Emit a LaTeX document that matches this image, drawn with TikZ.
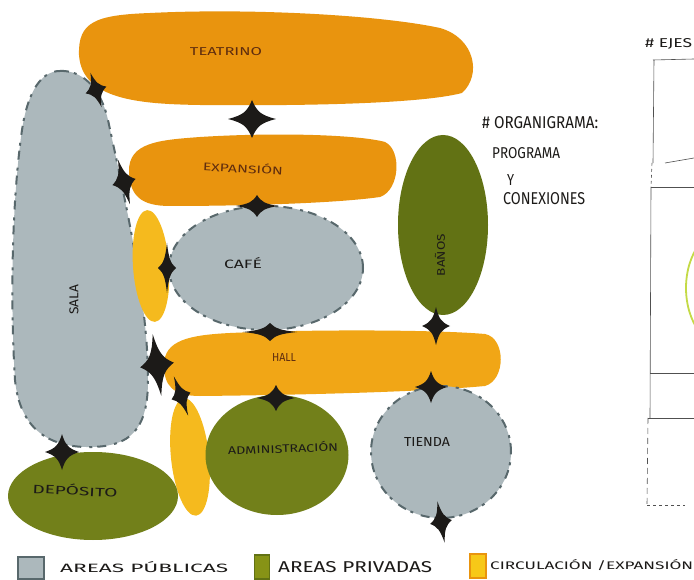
\documentclass[tikz,border=0pt]{standalone}
\usepackage{fontspec}
\setmainfont{Fira Sans}
\usepackage{graphicx}
\usetikzlibrary{shapes.geometric}
\definecolor{orA}{RGB}{233,148,14}
\definecolor{orB}{RGB}{241,166,22}
\definecolor{yel}{RGB}{245,186,30}
\definecolor{gry}{RGB}{172,184,188}
\definecolor{gryd}{RGB}{88,104,108}
\definecolor{grn}{RGB}{114,128,26}
\definecolor{grnd}{RGB}{98,114,20}
\definecolor{ink}{RGB}{28,26,24}
\definecolor{inkb}{RGB}{95,45,15}
\definecolor{skc}{RGB}{80,80,80}
\definecolor{yg}{RGB}{196,218,70}
\newcommand{\fitbox}[3]{\resizebox{#1pt}{#2pt}{#3}}
\tikzset{
  lbl/.style={inner sep=0pt, text=ink},
  lblo/.style={inner sep=0pt, text=inkb},
  pubedge/.style={draw=gryd, line width=2pt, dash pattern=on 9pt off 5pt on 3pt off 8pt},
  pub/.style={ellipse, fill=gry, pubedge, inner sep=0pt},
  priv/.style={ellipse, fill=grn, inner sep=0pt},
  circ/.style={ellipse, fill=yel, inner sep=0pt},
  sk/.style={draw=skc, line width=0.6pt},
  spark/.pic={\fill[ink] (1,0) .. controls (0.38,0.2) and (0.2,0.38) .. (0,1)
     .. controls (-0.2,0.38) and (-0.38,0.2) .. (-1,0)
     .. controls (-0.38,-0.2) and (-0.2,-0.38) .. (0,-1)
     .. controls (0.2,-0.38) and (0.38,-0.2) .. (1,0) -- cycle;}
}
\begin{document}
\begin{tikzpicture}[x=1pt,y=-1pt]
\useasboundingbox (0,0) rectangle (694,580);
\fill[white] (0,0) rectangle (694,580);
\begin{scope}
\clip (0,0) rectangle (694,580);
% ---- blobs ----
\fill[orA] (79,55) .. controls (78,22) and (95,15) .. (150,13) .. controls (250,8) and (380,15) .. (440,28) .. controls (475,38) and (482,75) .. (462,93) .. controls (420,104) and (300,106) .. (200,105) .. controls (140,104) and (82,100) .. (79,55) -- cycle;
\fill[orA] (129,172) .. controls (128,142) and (160,140) .. (200,137) .. controls (280,132) and (360,135) .. (385,142) .. controls (402,150) and (400,190) .. (380,197) .. controls (330,204) and (230,206) .. (170,206) .. controls (140,206) and (130,195) .. (129,172) -- cycle;
\fill[orB] (164,365) .. controls (164,340) and (190,335) .. (230,333) .. controls (320,329) and (440,330) .. (485,334) .. controls (506,338) and (506,380) .. (485,386) .. controls (420,392) and (300,395) .. (200,396) .. controls (172,396) and (164,385) .. (164,365) -- cycle;
\filldraw[fill=gry, pubedge] (60,71) .. controls (80,70) and (100,85) .. (108,120) .. controls (125,200) and (148,300) .. (148,380) .. controls (148,430) and (130,446) .. (92,447) .. controls (50,448) and (20,430) .. (15,380) .. controls (10,300) and (12,200) .. (22,130) .. controls (28,90) and (42,71) .. (60,71) -- cycle;
\node[circ, minimum width=36pt, minimum height=112pt, rotate=4] (strip1) at (151,266) {};
\node[circ, minimum width=38pt, minimum height=118pt, rotate=6] (strip2) at (190,457) {};
\node[pub, minimum width=194pt, minimum height=124pt] (cafe) at (266,268) {};
\node[priv, fill=grnd, minimum width=90pt, minimum height=180pt] (banos) at (443,225) {};
\node[priv, minimum width=143pt, minimum height=120pt] (admin) at (277,455) {};
\node[pub, minimum width=140pt, minimum height=132pt] (tienda) at (441,452) {};
\node[priv, minimum width=170pt, minimum height=88pt] (deposito) at (93,496) {};
% ---- joints ----
\pic[rotate=18, xscale=11, yscale=18] at (96,90) {spark};
\pic[xscale=24, yscale=19] at (252,119) {spark};
\pic[rotate=15, xscale=12, yscale=23] at (124,182) {spark};
\pic[xscale=21, yscale=11] at (257,206) {spark};
\pic[xscale=9, yscale=25] at (167,268) {spark};
\pic[xscale=27, yscale=9] at (270,332) {spark};
\pic[xscale=14, yscale=19] at (436,326) {spark};
\pic[rotate=8, xscale=17, yscale=31] at (157,365) {spark};
\pic[rotate=20, xscale=10, yscale=21] at (181,396) {spark};
\pic[xscale=19, yscale=13] at (276,398) {spark};
\pic[xscale=16, yscale=16] at (431,387) {spark};
\pic[rotate=10, xscale=11, yscale=21] at (441,522) {spark};
\pic[xscale=17, yscale=18] at (62,452) {spark};
% ---- labels ----
\node[lblo] (lteatrino) at (226,52) {\fitbox{72}{8}{TEATRINO}};
\node[lblo, rotate=-3] (lexpansion) at (243,168) {\fitbox{80}{10}{EXPANSIÓN}};
\node[lbl] (lcafe) at (243,263) {\fitbox{38}{11}{CAFÉ}};
\node[lbl, rotate=90] (lsala) at (74,300) {\fitbox{30}{9}{SALA}};
\node[lbl, rotate=90] (lbanos) at (440,255) {\fitbox{42}{10}{BAÑOS}};
\node[lblo] (lhall) at (284,357) {\fitbox{24}{8}{HALL}};
\node[lbl, rotate=2] (ladmin) at (283,448) {\fitbox{110}{10}{ADMINISTRACIÓN}};
\node[lbl] (ltienda) at (427,442) {\fitbox{46}{9}{TIENDA}};
\node[lbl, rotate=-3] (ldeposito) at (75,490) {\fitbox{85}{11}{DEPÓSITO}};
% ---- notes ----
\node[lbl, anchor=west] (norg) at (482,123) {\fitbox{116}{12}{\# ORGANIGRAMA:}};
\node[lbl, anchor=west] (nprog) at (492,153) {\fitbox{68}{11}{PROGRAMA}};
\node[lbl, anchor=west] (ny) at (507,180) {\fitbox{7}{11}{Y}};
\node[lbl, anchor=west] (ncon) at (503,199) {\fitbox{82}{12}{CONEXIONES}};
\node[lbl, anchor=west] (nejes) at (645,44) {\fitbox{47}{9}{\# EJES}};
% ---- right sketch ----
\draw[sk] (653,60) -- (694,59);
\draw[sk] (654,60) -- (653,163);
\draw[sk] (665,163) -- (694,158);
\draw[sk, dashed] (652,163) -- (651,187);
\draw[sk] (651,187) -- (694,187);
\draw[sk] (651,187) -- (650,418);
\draw[sk] (650,373) -- (694,373);
\draw[sk] (648,418) -- (694,418);
\draw[sk, dash pattern=on 6pt off 4pt] (648,418) -- (647,505);
\draw[sk, dashed] (647,505) -- (685,505);
\draw[yg, line width=1.8pt] (731,288) ellipse (45 and 62);
% ---- legend ----
\node[draw=gryd, fill=gry, line width=1.5pt, minimum width=26pt, minimum height=22pt, inner sep=0pt] (kpub) at (31,568) {};
\node[lbl, anchor=west] (tpub) at (60,567) {\fitbox{168}{11}{AREAS PÚBLICAS}};
\node[draw=grnd, fill=grn!85!yellow, line width=1.2pt, minimum width=15pt, minimum height=24pt, inner sep=0pt] (kpriv) at (262,567) {};
\node[lbl, anchor=west] (tpriv) at (278,567) {\fitbox{154}{11}{AREAS PRIVADAS}};
\node[draw=orA, fill=yel!80!yellow, line width=1.2pt, minimum width=16pt, minimum height=24pt, inner sep=0pt] (kcirc) at (478,566) {};
\node[lbl, anchor=west] (tcirc) at (490,565) {\fitbox{203}{10}{CIRCULACIÓN /EXPANSIÓN}};
\end{scope}
\end{tikzpicture}
\end{document}
